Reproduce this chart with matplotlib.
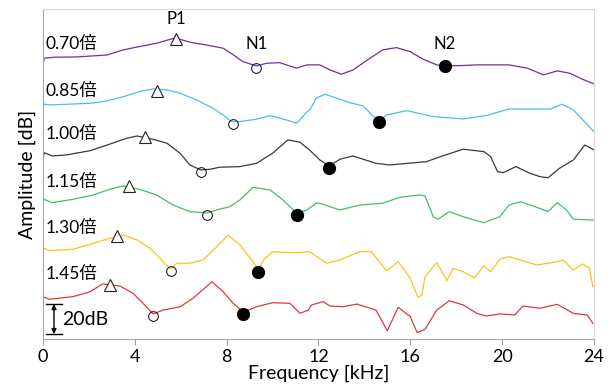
import numpy as np
import matplotlib
matplotlib.use("Agg")
from matplotlib import pyplot as plt

plt.rcParams['font.family'] = ['Lato', 'Noto Sans CJK JP', 'DejaVu Sans']

labels = ['0.70倍', '0.85倍', '1.00倍', '1.15倍', '1.30倍', '1.45倍']
colors = ['#7030a0', '#45c0f0', '#3a3a3a', '#45bd6a', '#ffc21a', '#dc3a3a']
label_y = [196.7, 165.3, 136.7, 104.7, 74.0, 43.3]

# frequency [kHz], amplitude [dB, with offsets]
f_070 = [0.0, 0.05, 0.5, 1.5, 2.8, 3.5, 4.2, 4.95, 5.6, 5.8, 6.4, 7.1, 7.85, 8.3, 8.7, 9.15,
         9.3, 9.75, 10.3, 11.05, 11.5, 12.06, 12.5, 13.0, 13.5, 14.24, 14.8, 15.4, 16.0,
         16.55, 17.15, 17.5, 18.16, 18.9, 20.3, 21.1, 21.8, 22.4, 22.95, 23.5, 24.0]
a_070 = [182.7, 187.1, 187.8, 188.0, 189.3, 192.7, 194.9, 197.1, 200.0, 200.5, 197.8, 196.0,
         193.8, 189.3, 184.9, 182.7, 182.0, 183.8, 184.2, 180.5, 182.7, 182.7, 179.3, 176.5,
         179.3, 187.1, 192.7, 194.2, 191.5, 186.5, 182.7, 182.0, 182.2, 182.7, 182.7, 180.5,
         176.0, 178.7, 177.1, 173.1, 170.0]

f_085 = [0.0, 0.05, 0.3, 2.05, 2.8, 3.5, 4.2, 4.8, 5.4, 5.97, 6.7, 7.4, 7.85, 8.2, 8.58, 9.3,
         9.9, 10.6, 11.06, 11.5, 11.63, 11.9, 12.28, 12.8, 13.37, 13.95, 14.4, 14.63, 14.97,
         15.85, 17.0, 18.3, 19.3, 20.3, 22.1, 22.6, 23.1, 24.0]
a_085 = [154.9, 156.5, 156.0, 157.1, 158.7, 161.5, 164.9, 166.7, 166.0, 163.8, 159.3, 153.8,
         149.3, 144.9, 144.9, 146.5, 148.9, 146.0, 143.8, 151.5, 152.7, 160.5, 163.1, 160.5,
         157.5, 155.3, 148.2, 145.3, 149.3, 152.2, 148.2, 146.7, 148.9, 153.3, 153.3, 156.5,
         152.7, 138.2]

f_100 = [0.0, 0.05, 0.4, 1.03, 2.05, 2.8, 3.65, 4.1, 4.8, 5.4, 5.97, 6.4, 6.87, 7.27, 7.7,
         8.58, 9.3, 10.0, 10.67, 11.2, 11.63, 12.06, 12.47, 12.93, 13.5, 14.5, 15.1, 16.7,
         17.4, 18.3, 19.2, 19.5, 19.8, 20.05, 20.6, 21.2, 21.65, 22.0, 22.5, 23.1, 23.6, 24.0]
a_100 = [119.3, 124.2, 122.0, 122.7, 125.5, 129.3, 133.8, 135.3, 133.1, 130.5, 123.8, 116.0,
         112.7, 113.1, 114.5, 114.9, 117.1, 123.8, 132.7, 131.1, 125.7, 119.3, 115.3, 119.8,
         122.0, 117.1, 116.0, 118.2, 122.0, 126.5, 124.9, 121.5, 111.5, 110.9, 114.9, 110.5,
         108.2, 107.5, 113.8, 119.3, 129.3, 126.0]

f_115 = [0.0, 0.05, 0.4, 1.3, 2.2, 2.9, 3.5, 4.2, 4.95, 5.67, 6.4, 7.13, 7.56, 8.14, 8.58,
         9.15, 9.9, 10.45, 11.05, 11.5, 11.9, 12.06, 12.93, 13.8, 14.8, 15.55, 16.4, 16.64,
         17.0, 17.2, 17.7, 18.3, 19.2, 19.9, 20.3, 20.8, 21.5, 22.0, 22.4, 22.8, 23.1, 24.0]
a_115 = [90.5, 93.1, 90.9, 93.1, 96.0, 99.8, 102.0, 99.8, 96.0, 89.3, 84.9, 84.0, 86.0, 88.2,
         92.7, 101.1, 99.3, 92.7, 84.0, 86.0, 90.5, 90.5, 86.0, 89.3, 90.5, 94.5, 96.0, 95.3,
         81.5, 79.8, 84.9, 81.5, 77.5, 81.5, 89.3, 91.5, 87.8, 84.9, 90.9, 86.0, 79.8, 79.3]

f_130 = [0.0, 0.05, 0.3, 1.3, 2.2, 2.9, 3.5, 4.1, 4.66, 5.1, 5.36, 5.56, 5.82, 6.4, 6.97,
         7.57, 8.06, 8.58, 9.15, 9.38, 9.6, 10.0, 10.9, 11.6, 12.36, 12.93, 13.8, 14.3, 14.97,
         15.47, 16.0, 16.33, 16.5, 16.64, 17.15, 17.6, 17.86, 18.3, 18.8, 19.2, 19.5, 19.9,
         20.3, 21.5, 22.4, 22.65, 23.1, 23.5, 23.8, 23.95, 24.0]
a_130 = [58.2, 60.5, 58.9, 59.8, 63.8, 67.1, 69.3, 66.0, 60.5, 53.8, 49.3, 46.7, 50.5, 50.5,
         52.7, 61.5, 69.3, 62.7, 51.5, 46.0, 52.7, 58.2, 57.5, 58.2, 50.5, 52.7, 58.2, 58.2,
         45.5, 51.5, 40.5, 27.8, 29.3, 41.5, 50.9, 38.9, 47.1, 44.9, 40.9, 48.7, 44.9, 53.1,
         54.9, 49.3, 51.5, 52.7, 46.0, 50.0, 47.1, 34.9, 34.7]

f_145 = [0.0, 0.05, 0.3, 1.3, 2.05, 2.6, 3.35, 3.92, 4.36, 4.8, 5.23, 5.97, 6.53, 7.36, 7.85,
         8.28, 8.72, 9.3, 10.0, 10.75, 11.2, 11.55, 11.7, 12.2, 12.5, 13.07, 13.67, 14.5, 15.0,
         15.47, 16.0, 16.3, 16.64, 17.15, 17.7, 18.3, 18.9, 19.3, 19.9, 20.55, 20.9, 21.65,
         22.4, 23.1, 23.7, 23.95]
a_145 = [26.0, 27.8, 26.5, 28.2, 31.5, 36.7, 35.3, 30.5, 23.8, 16.7, 19.3, 21.5, 27.1, 38.2,
         31.5, 23.8, 18.0, 21.5, 24.2, 23.8, 17.1, 19.3, 22.7, 24.9, 22.0, 21.5, 23.3, 19.3,
         5.5, 21.1, 14.9, 4.2, 6.5, 19.3, 25.5, 22.7, 17.1, 15.3, 16.7, 16.0, 22.0, 20.5,
         23.1, 17.1, 16.0, 10.5]

freqs = [f_070, f_085, f_100, f_115, f_130, f_145]
amps = [a_070, a_085, a_100, a_115, a_130, a_145]

# feature points: P1 (peak), N1, N2 (notches)
p1_f = [5.8, 4.97, 4.44, 3.76, 3.24, 2.92]
p1_a = [200.0, 165.5, 134.9, 102.0, 68.7, 36.0]
n1_f = [9.3, 8.26, 6.87, 7.13, 5.56, 4.8]
n1_a = [180.9, 143.3, 111.1, 82.7, 45.3, 15.3]
n2_f = [17.5, 14.63, 12.47, 11.05, 9.38, 8.72]
n2_a = [182.0, 144.5, 113.8, 82.7, 44.9, 16.7]

xticks = [0, 4, 8, 12, 16, 20, 24]

fig = plt.figure(figsize=(6.13, 3.87), dpi=100)
ax = fig.add_axes([0.0701, 0.124, 0.8989, 0.853])

for f, a, c in zip(freqs, amps, colors):
    ax.plot(f, a, color=c, lw=0.9)

ax.plot(p1_f, p1_a, linestyle='none', marker='^', ms=8.5, mfc='white', mec='#222222', mew=0.8)
ax.plot(n1_f, n1_a, linestyle='none', marker='o', ms=7, mfc='none', mec='#222222', mew=0.8)
ax.plot(n2_f, n2_a, linestyle='none', marker='o', ms=8.5, mfc='black', mec='black')

for lab, y in zip(labels, label_y):
    ax.text(0.12, y, lab, fontsize=12.5, va='center', ha='left')

ax.text(p1_f[0], 213.3, 'P1', fontsize=12, ha='center', va='center')
ax.text(n1_f[0], 196.7, 'N1', fontsize=12, ha='center', va='center')
ax.text(n2_f[0], 196.7, 'N2', fontsize=12, ha='center', va='center')

# 20 dB scale bar
ax.annotate('', xy=(0.48, 3.3), xytext=(0.48, 23.3),
            arrowprops=dict(arrowstyle='<|-|>', color='black', lw=1.0,
                            mutation_scale=7, shrinkA=0, shrinkB=0))
ax.plot([0.13, 0.81], [23.3, 23.3], color='black', lw=1.0)
ax.plot([0.13, 0.81], [3.3, 3.3], color='black', lw=1.0)
ax.text(0.85, 12.7, '20dB', fontsize=14, va='center', ha='left')

ax.set_xlim(0, 24)
ax.set_ylim(0, 220)
ax.set_xticks(xticks)
ax.set_xticklabels([str(t) for t in xticks], fontsize=13)
ax.set_yticks([])
ax.tick_params(axis='x', direction='out', length=4, color='#a0a0a0', pad=3)
ax.set_xlabel('Frequency [kHz]', fontsize=14, labelpad=0)
ax.set_ylabel('Amplitude [dB]', fontsize=14, labelpad=5)

for side in ['left', 'bottom']:
    ax.spines[side].set_color('#a6a6a6')
for side in ['top', 'right']:
    ax.spines[side].set_color('#d9d9d9')

fig.savefig('out.png', dpi=100)
